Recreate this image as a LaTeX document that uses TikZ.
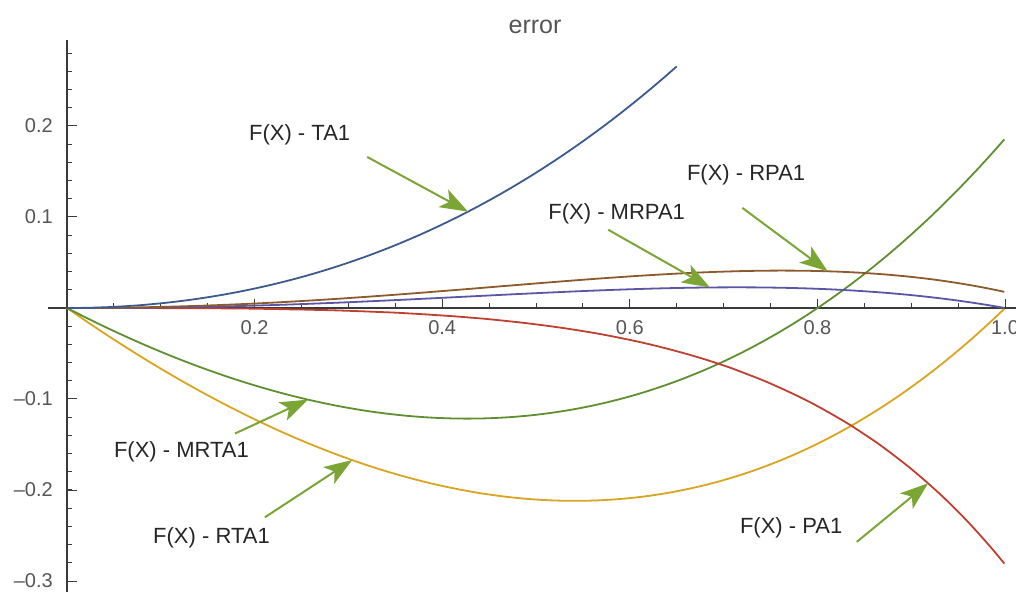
\documentclass[tikz,border=0pt]{standalone}
\usepackage{fontspec}
\setmainfont{Liberation Sans}
\usepackage{tikz}
\usetikzlibrary{arrows.meta}

\definecolor{axisGray}{HTML}{3A3A3A}
\definecolor{tickGray}{HTML}{555555}
\definecolor{labelGray}{HTML}{262626}
\definecolor{arrowGreen}{HTML}{7BA534}
\definecolor{taBlue}{HTML}{3D5A8F}
\definecolor{paRed}{HTML}{C0402F}
\definecolor{rtaYellow}{HTML}{D9A520}
\definecolor{mrtaGreen}{HTML}{5F8F30}
\definecolor{rpaBrown}{HTML}{8C5A2C}
\definecolor{mrpaPurple}{HTML}{5A55A5}

\begin{document}
\begin{tikzpicture}[x=938pt, y=910pt,
    declare function={ta(\x)=exp(\x)-1-\x;
      pa(\x)=exp(\x)-(2+\x)/(2-\x);
      rta(\x)=exp(\x)-1-1.718282*\x;
      mrta(\x)=exp(\x)-1-1.532*\x;
      rpa(\x)=\x*\x*(0.1169+0.0637*\x-0.163*\x*\x);
      mrpa(\x)=0.1845*\x*\x*sqrt(\x)*(1-\x);},
    curve/.style={line width=1.8pt, line join=round, smooth},
    pointer/.style={draw=arrowGreen, line width=2pt, -{Stealth[length=28pt, width=20pt, inset=7pt]}},
    lbl/.style={font=\fontsize{22}{26}\selectfont, text=labelGray, inner sep=0pt},
    ticklbl/.style={font=\fontsize{20}{24}\selectfont, text=tickGray, inner sep=0pt}]
  \useasboundingbox (-67pt, -284pt) rectangle (949pt, 308pt);

  \draw[axisGray, line width=1.4pt] (-19pt, 0) -- (949pt, 0);
  \draw[axisGray, line width=1.4pt] (0, -284pt) -- (0, 268pt);
  \foreach \t in {0.05,0.1,...,1.01} \draw[axisGray, line width=1pt] (\t, 0) -- ++(0, 5pt);
  \foreach \t in {0.2,0.4,...,1.01} \draw[axisGray, line width=1pt] (\t, 0) -- ++(0, 9pt);
  \foreach \v in {-0.30,-0.28,...,0.29} \draw[axisGray, line width=1pt] (0, \v) -- ++(5pt, 0);
  \foreach \v in {-0.3,-0.2,...,0.21} \draw[axisGray, line width=1pt] (0, \v) -- ++(10pt, 0);
  \foreach \t [count=\i] in {0.2,0.4,0.6,0.8,1.0}
    \path (\t, 0) ++(0, -20pt) node[ticklbl] (xlab\i) {\t};
  \foreach \v/\s [count=\i] in {0.2/0.2, 0.1/0.1, -0.1/–0.1, -0.2/–0.2, -0.3/–0.3}
    \path (0, \v) ++(-14pt, 0) node[ticklbl, anchor=east] (ylab\i) {\s};
  \node[font=\fontsize{25}{28}\selectfont, text=tickGray, inner sep=0pt] (title) at (0.499, 0.309) {error};

  \draw[curve, rtaYellow] plot[domain=0:1, samples=80] (\x, {rta(\x)});
  \draw[curve, mrtaGreen] plot[domain=0:1, samples=80] (\x, {mrta(\x)});
  \draw[curve, paRed] plot[domain=0:1, samples=80] (\x, {pa(\x)});
  \draw[curve, mrpaPurple] plot[domain=0:1, samples=80] (\x, {mrpa(\x)});
  \draw[curve, rpaBrown] plot[domain=0:1, samples=80] (\x, {rpa(\x)});
  \draw[curve, taBlue] plot[domain=0:0.65, samples=60] (\x, {ta(\x)});

  \node[lbl] (labTA) at (0.248, 0.190) {F(X) - TA1};
  \node[lbl] (labRPA) at (0.724, 0.146) {F(X) - RPA1};
  \node[lbl] (labMRPA) at (0.586, 0.104) {F(X) - MRPA1};
  \node[lbl] (labMRTA) at (0.122, -0.158) {F(X) - MRTA1};
  \node[lbl] (labRTA) at (0.154, -0.253) {F(X) - RTA1};
  \node[lbl] (labPA) at (0.772, -0.242) {F(X) - PA1};

  \coordinate (fromTA) at (0.320, 0.166);
  \coordinate (fromRPA) at (0.720, 0.110);
  \coordinate (fromMRPA) at (0.577, 0.086);
  \coordinate (fromMRTA) at (0.179, -0.138);
  \coordinate (fromRTA) at (0.211, -0.230);
  \coordinate (fromPA) at (0.842, -0.257);
  \coordinate (tipTA) at (0.4275, {ta(0.4275)});
  \coordinate (tipRPA) at (0.811, {rpa(0.811)});
  \coordinate (tipMRPA) at (0.6855, {mrpa(0.6855)});
  \coordinate (tipMRTA) at (0.257, {mrta(0.257)});
  \coordinate (tipRTA) at (0.304, {rta(0.304)});
  \coordinate (tipPA) at (0.918, {pa(0.918)});

  \draw[pointer] (fromTA) -- (tipTA);
  \draw[pointer] (fromRPA) -- (tipRPA);
  \draw[pointer] (fromMRPA) -- (tipMRPA);
  \draw[pointer] (fromMRTA) -- (tipMRTA);
  \draw[pointer] (fromRTA) -- (tipRTA);
  \draw[pointer] (fromPA) -- (tipPA);
\end{tikzpicture}
\end{document}
